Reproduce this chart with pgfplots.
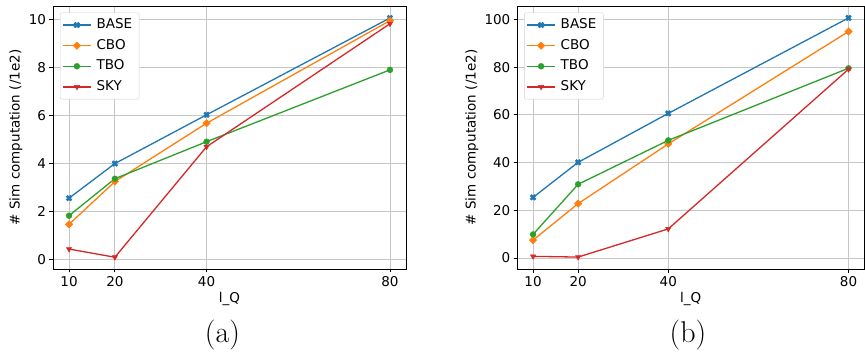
\documentclass[border=0pt]{standalone}
\usepackage{fontspec}
\usepackage{pgfplots}
\pgfplotsset{compat=1.18}
\newfontfamily\dejavu{DejaVu Sans}

\definecolor{c0}{HTML}{1F77B4}
\definecolor{c1}{HTML}{FF7F0E}
\definecolor{c2}{HTML}{2CA02C}
\definecolor{c3}{HTML}{D62728}

% filled "X" marker
\pgfdeclareplotmark{Xf}{%
  \pgftransformrotate{45}%
  \pgfpathmoveto{\pgfqpoint{0.33\pgfplotmarksize}{0.33\pgfplotmarksize}}%
  \pgfpathlineto{\pgfqpoint{0.33\pgfplotmarksize}{\pgfplotmarksize}}%
  \pgfpathlineto{\pgfqpoint{-0.33\pgfplotmarksize}{\pgfplotmarksize}}%
  \pgfpathlineto{\pgfqpoint{-0.33\pgfplotmarksize}{0.33\pgfplotmarksize}}%
  \pgfpathlineto{\pgfqpoint{-\pgfplotmarksize}{0.33\pgfplotmarksize}}%
  \pgfpathlineto{\pgfqpoint{-\pgfplotmarksize}{-0.33\pgfplotmarksize}}%
  \pgfpathlineto{\pgfqpoint{-0.33\pgfplotmarksize}{-0.33\pgfplotmarksize}}%
  \pgfpathlineto{\pgfqpoint{-0.33\pgfplotmarksize}{-\pgfplotmarksize}}%
  \pgfpathlineto{\pgfqpoint{0.33\pgfplotmarksize}{-\pgfplotmarksize}}%
  \pgfpathlineto{\pgfqpoint{0.33\pgfplotmarksize}{-0.33\pgfplotmarksize}}%
  \pgfpathlineto{\pgfqpoint{\pgfplotmarksize}{-0.33\pgfplotmarksize}}%
  \pgfpathlineto{\pgfqpoint{\pgfplotmarksize}{0.33\pgfplotmarksize}}%
  \pgfpathclose
  \pgfusepathqfillstroke
}

\newcommand{\mpl}{\dejavu\fontsize{13.5}{16}\selectfont}

\pgfplotsset{
  simax/.style={
    scale only axis,
    height=263pt,
    xmin=6.5, xmax=83.5,
    xtick={10,20,40,80},
    tick pos=left,
    tick align=outside,
    major tick length=3.5pt,
    every tick/.style={black, line width=0.8pt},
    axis line style={black, line width=0.8pt},
    grid=major,
    major grid style={black!22, line width=0.8pt},
    ticklabel style={font=\mpl},
    /pgf/number format/assume math mode=true,
    xlabel={l\_Q},
    ylabel={\# Sim computation (/1e2)},
    every axis plot/.append style={line width=1.3pt},
    legend cell align=left,
    legend style={
      at={(axis description cs:0.02,0.975)}, anchor=north west,
      font=\mpl, draw=black!18, fill=white, rounded corners=2pt,
      inner xsep=2pt, inner ysep=2pt, row sep=0pt,
      nodes={inner ysep=2.8pt, inner xsep=5pt, text height=11pt, text depth=4pt},
    },
  },
}

\begin{document}
\begin{tikzpicture}
\useasboundingbox (0pt,0pt) rectangle (865pt,356pt);

% panel (a)
\begin{axis}[simax,
  at={(53pt,87pt)}, anchor=south west, width=353pt,
  ymin=-0.40, ymax=10.55, ytick={0,2,4,6,8,10},
  every axis x label/.style={at={(axis description cs:0.5,-0.114)}, anchor=center, font=\mpl},
  every axis y label/.style={at={(axis description cs:-0.105,0.5)}, anchor=center, rotate=90, font=\mpl},
]
\addplot[c0, mark=Xf, mark size=3pt, mark options={line width=0.5pt},
  legend image code/.code={\draw[mark=none] (0pt,0pt) -- (28pt,0pt); \draw[only marks] plot coordinates {(14pt,0pt)};}]
  coordinates {(10,2.55) (20,3.99) (40,6.02) (80,10.05)};
\addlegendentry{BASE}
\addplot[c1, mark=square*, mark size=2.6pt, mark options={rotate=45, line width=0.5pt},
  legend image code/.code={\draw[mark=none] (0pt,0pt) -- (28pt,0pt); \draw[only marks] plot coordinates {(14pt,0pt)};}]
  coordinates {(10,1.46) (20,3.24) (40,5.67) (80,9.94)};
\addlegendentry{CBO}
\addplot[c2, mark=*, mark size=2.9pt, mark options={line width=0.5pt},
  legend image code/.code={\draw[mark=none] (0pt,0pt) -- (28pt,0pt); \draw[only marks] plot coordinates {(14pt,0pt)};}]
  coordinates {(10,1.82) (20,3.36) (40,4.90) (80,7.89)};
\addlegendentry{TBO}
\addplot[c3, mark=triangle*, mark size=3pt, mark options={rotate=180, line width=0.5pt},
  legend image code/.code={\draw[mark=none] (0pt,0pt) -- (28pt,0pt); \draw[only marks] plot coordinates {(14pt,0pt)};}]
  coordinates {(10,0.43) (20,0.09) (40,4.69) (80,9.81)};
\addlegendentry{SKY}
\end{axis}

% panel (b)
\begin{axis}[simax,
  at={(517.3pt,87pt)}, anchor=south west, width=347pt,
  ymin=-4.6, ymax=105.6, ytick={0,20,40,60,80,100},
  every axis x label/.style={at={(axis description cs:0.5,-0.114)}, anchor=center, font=\mpl},
  every axis y label/.style={at={(axis description cs:-0.131,0.5)}, anchor=center, rotate=90, font=\mpl},
]
\addplot[c0, mark=Xf, mark size=3pt, mark options={line width=0.5pt},
  legend image code/.code={\draw[mark=none] (0pt,0pt) -- (28pt,0pt); \draw[only marks] plot coordinates {(14pt,0pt)};}]
  coordinates {(10,25.4) (20,40.1) (40,60.6) (80,100.6)};
\addlegendentry{BASE}
\addplot[c1, mark=square*, mark size=2.6pt, mark options={rotate=45, line width=0.5pt},
  legend image code/.code={\draw[mark=none] (0pt,0pt) -- (28pt,0pt); \draw[only marks] plot coordinates {(14pt,0pt)};}]
  coordinates {(10,7.5) (20,22.8) (40,47.8) (80,94.9)};
\addlegendentry{CBO}
\addplot[c2, mark=*, mark size=2.9pt, mark options={line width=0.5pt},
  legend image code/.code={\draw[mark=none] (0pt,0pt) -- (28pt,0pt); \draw[only marks] plot coordinates {(14pt,0pt)};}]
  coordinates {(10,9.9) (20,30.9) (40,49.3) (80,79.5)};
\addlegendentry{TBO}
\addplot[c3, mark=triangle*, mark size=3pt, mark options={rotate=180, line width=0.5pt},
  legend image code/.code={\draw[mark=none] (0pt,0pt) -- (28pt,0pt); \draw[only marks] plot coordinates {(14pt,0pt)};}]
  coordinates {(10,0.7) (20,0.4) (40,12.2) (80,79.1)};
\addlegendentry{SKY}
\end{axis}

\node[font=\fontsize{30}{36}\selectfont] at (222.5pt,21pt) {(a)};
\node[font=\fontsize{30}{36}\selectfont] at (688pt,21pt) {(b)};
\end{tikzpicture}
\end{document}
